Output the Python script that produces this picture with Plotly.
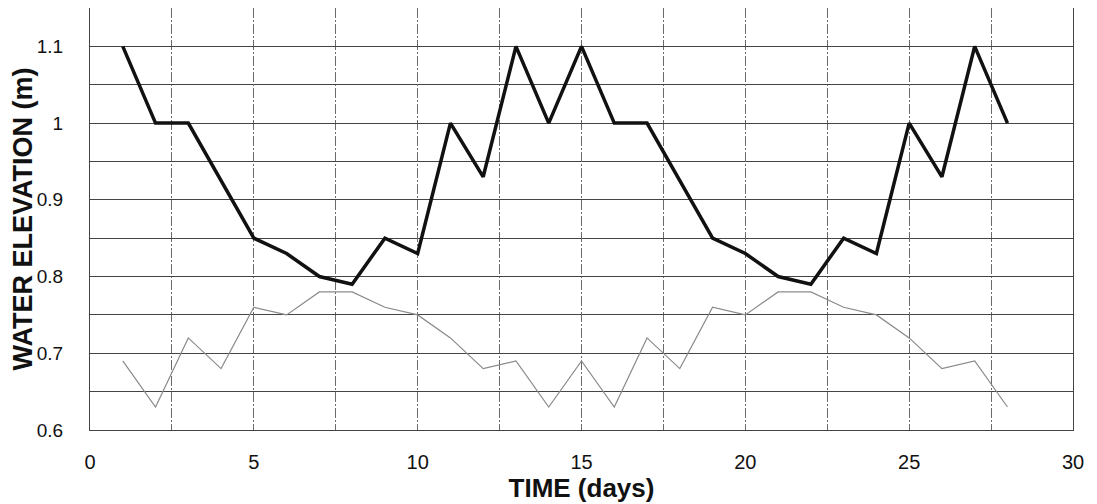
import plotly.graph_objects as go

days = list(range(1, 29))
elev_thick = [1.1, 1.0, 1.0, 0.925, 0.85, 0.83, 0.80, 0.79, 0.85, 0.83,
              1.0, 0.93, 1.1, 1.0, 1.1, 1.0, 1.0, 0.925, 0.85, 0.83,
              0.80, 0.79, 0.85, 0.83, 1.0, 0.93, 1.1, 1.0]
elev_thin = [0.69, 0.63, 0.72, 0.68, 0.76, 0.75, 0.78, 0.78, 0.76, 0.75,
             0.72, 0.68, 0.69, 0.63, 0.69, 0.63, 0.72, 0.68, 0.76, 0.75,
             0.78, 0.78, 0.76, 0.75, 0.72, 0.68, 0.69, 0.63]

fig = go.Figure()
fig.add_trace(go.Scatter(x=days, y=elev_thin, mode="lines",
                         line=dict(color="#8a8a8a", width=1.2), showlegend=False))
fig.add_trace(go.Scatter(x=days, y=elev_thick, mode="lines",
                         line=dict(color="#111111", width=3.5), showlegend=False))

hcol = "#444444"
vcol = "#6a6a6a"
vdash = "10px,2px,2px,2px"
# page body has an 8px margin, so the figure is sized 8px smaller
fig.update_layout(
    width=1089, height=496,
    margin=dict(l=82, r=24, t=0, b=74),
    paper_bgcolor="white", plot_bgcolor="white",
    font=dict(family="Liberation Sans, Arial, sans-serif", color="#111111", size=19),
    xaxis=dict(range=[0, 30], tick0=0, dtick=5, showgrid=True, gridcolor=vcol,
               gridwidth=1, griddash=vdash,
               minor=dict(dtick=2.5, showgrid=True, gridcolor=vcol, gridwidth=1, griddash=vdash),
               showline=True, linecolor=hcol, linewidth=1, mirror=True,
               zeroline=False, ticks="", ticklabelstandoff=14, automargin=False,
               tickfont=dict(size=20),
               title=dict(text="<b>TIME (days)</b>", font=dict(size=26), standoff=3)),
    yaxis=dict(range=[0.6, 1.15], tick0=0.6, dtick=0.1, showgrid=True, gridcolor=hcol,
               gridwidth=1,
               minor=dict(dtick=0.05, showgrid=True, gridcolor=hcol, gridwidth=1),
               showline=True, linecolor=hcol, linewidth=1, mirror=True,
               zeroline=False, ticks="", ticklabelstandoff=22, tickformat="~g",
               automargin=False,
               title=dict(text="<b>WATER ELEVATION (m)</b>", font=dict(size=27), standoff=0)),
)

fig.write_html("out.html")
